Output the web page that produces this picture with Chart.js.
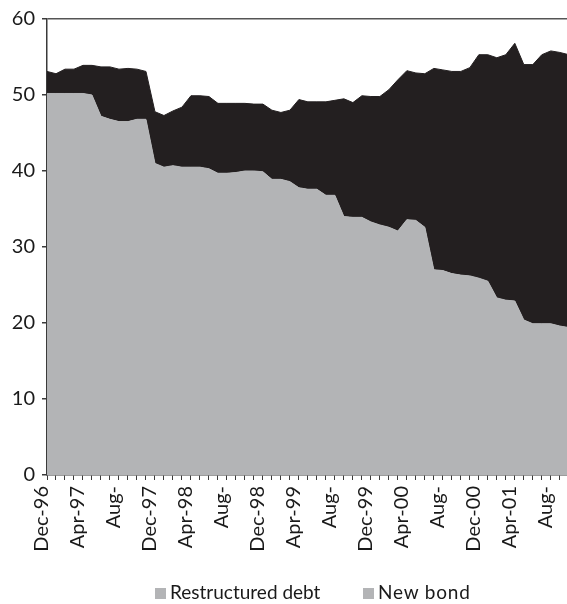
<!DOCTYPE html>
<html>
<head>
<meta charset="utf-8">
<script src="https://cdn.jsdelivr.net/npm/chart.js@4/dist/chart.umd.min.js"></script>
<style>
  html, body { margin: 0; padding: 0; background: #fff; overflow: hidden; }
  #wrap { position: relative; width: 567px; height: 604px; }
  canvas { position: absolute; left: 0; top: 0; }
  .leg { position: absolute; top: 580px; font-family: Lato, "Noto Sans", sans-serif; font-size: 19px; color: #1a1a1a; line-height: 23px; white-space: nowrap; }
  .sw { display: inline-block; width: 11px; height: 11px; background: #B3B4B6; margin-right: 4px; vertical-align: 0px; }
</style>
</head>
<body>
<div id="wrap">
  <canvas id="c" width="567" height="604"></canvas>
  <div class="leg" style="left:155px"><span class="sw"></span>Restructured debt</div>
  <div class="leg" style="left:363px; letter-spacing: 0.8px"><span class="sw"></span>New bond</div>
</div>
<script>
// Monthly categories, Dec-96 .. Nov-01
const months = ['Dec-96','Jan-97','Feb-97','Mar-97','Apr-97','May-97','Jun-97','Jul-97','Aug-97','Sep-97','Oct-97','Nov-97',
  'Dec-97','Jan-98','Feb-98','Mar-98','Apr-98','May-98','Jun-98','Jul-98','Aug-98','Sep-98','Oct-98','Nov-98',
  'Dec-98','Jan-99','Feb-99','Mar-99','Apr-99','May-99','Jun-99','Jul-99','Aug-99','Sep-99','Oct-99','Nov-99',
  'Dec-99','Jan-00','Feb-00','Mar-00','Apr-00','May-00','Jun-00','Jul-00','Aug-00','Sep-00','Oct-00','Nov-00',
  'Dec-00','Jan-01','Feb-01','Mar-01','Apr-01','May-01','Jun-01','Jul-01','Aug-01','Sep-01','Oct-01','Nov-01'];

// Tick labels shown every 4 months (as printed on the chart)
const tickLabels = ['Dec-96','Apr-97','Aug-','Dec-97','Apr-98','Aug-','Dec-98','Apr-99','Aug-','Dec-99','Apr-00','Aug-','Dec-00','Apr-01','Aug-'];

const restructuredDebt = [50.2,50.2,50.2,50.2,50.2,50.0,47.2,46.8,46.5,46.5,46.8,46.8,
  41.0,40.5,40.7,40.5,40.5,40.5,40.3,39.7,39.7,39.8,40.0,40.0,
  39.9,38.9,38.9,38.6,37.8,37.6,37.6,36.8,36.8,34.0,33.9,33.9,
  33.3,32.9,32.6,32.1,33.6,33.5,32.6,27.0,26.9,26.5,26.3,26.2,
  25.9,25.5,23.3,23.0,22.9,20.4,19.9,19.9,19.9,19.6,19.4,19.3];

const newBond = [2.9,2.6,3.2,3.2,3.7,3.9,6.5,6.9,6.9,7.0,6.6,6.3,
  6.8,6.8,7.2,7.9,9.4,9.4,9.5,9.2,9.2,9.1,8.9,8.8,
  8.9,9.1,8.8,9.4,11.6,11.5,11.5,12.3,12.5,15.5,15.1,16.0,
  16.5,16.9,18.1,19.9,19.6,19.4,20.2,26.5,26.4,26.6,26.8,27.4,
  29.4,29.8,31.6,32.3,33.9,33.6,34.1,35.4,35.9,36.0,35.9,35.9];

const yTicks = [0,10,20,30,40,50,60];

const GREY = '#B3B4B6';
const BLACK = '#231F20';
const AXIS = '#3a3a3a';
const FONT = 'Lato, "Noto Sans", sans-serif';

const toPts = arr => arr.map((v, i) => ({x: i, y: v}));

new Chart(document.getElementById('c'), {
  type: 'line',
  data: {
    datasets: [
      { label: 'Restructured debt', data: toPts(restructuredDebt), backgroundColor: GREY, borderColor: GREY,
        borderWidth: 1, fill: 'origin', pointRadius: 0, tension: 0 },
      { label: 'New bond', data: toPts(newBond), backgroundColor: BLACK, borderColor: BLACK,
        borderWidth: 1, fill: '-1', pointRadius: 0, tension: 0 }
    ]
  },
  options: {
    responsive: false,
    animation: false,
    layout: { padding: { top: 16, left: 0, right: 0, bottom: 0 } },
    plugins: { legend: { display: false }, tooltip: { enabled: false } },
    scales: {
      x: {
        type: 'linear',
        min: 0,
        max: 57.8,
        grid: { display: true, drawOnChartArea: false, drawTicks: true, tickLength: 5, tickColor: AXIS, lineWidth: 1 },
        border: { display: true, color: AXIS, width: 1.5 },
        ticks: {
          stepSize: 1,
          autoSkip: false,
          includeBounds: false,
          minRotation: 90,
          maxRotation: 90,
          padding: 6,
          labelOffset: -5,
          color: '#1a1a1a',
          font: { family: FONT, size: 20 },
          callback: (v) => (Number.isInteger(v) && v % 4 === 0 && tickLabels[v / 4] !== undefined) ? tickLabels[v / 4] : ''
        },
        afterFit: (s) => { s.height = 604 - 475; s.paddingLeft = 0; s.paddingRight = 0; }
      },
      y: {
        stacked: true,
        min: 0,
        max: 60,
        afterBuildTicks: (s) => { s.ticks = yTicks.map(v => ({ value: v })); },
        grid: {
          drawOnChartArea: true,
          color: (ctx) => (ctx.tick && ctx.tick.value === 60) ? '#555555' : 'rgba(0,0,0,0)',
          lineWidth: 1.5,
          drawTicks: true,
          tickLength: 5,
          tickColor: AXIS
        },
        border: { display: true, color: AXIS, width: 1.5 },
        ticks: { padding: 7, color: '#1a1a1a', font: { family: FONT, size: 20 } },
        afterFit: (s) => { s.width = 47; }
      }
    }
  }
});
</script>
</body>
</html>
